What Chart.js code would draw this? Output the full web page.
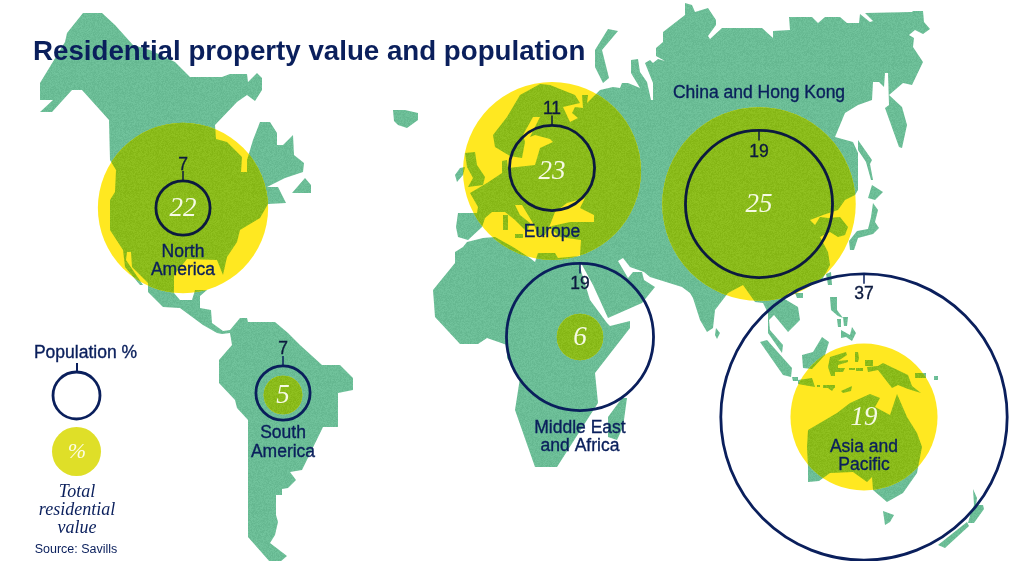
<!DOCTYPE html>
<html>
<head>
<meta charset="utf-8">
<title>Residential property value and population</title>
<script src="https://cdn.jsdelivr.net/npm/chart.js@4"></script>
<style>
    body { margin: 0; background: #fff; }
    canvas { display: block; }
</style>
</head>
<body>
<canvas id="map" width="1024" height="561"></canvas>
<script>
// regions
var regions = ['North America', 'South America', 'Europe', 'China and Hong Kong', 'Middle East and Africa', 'Asia and Pacific'];
var populationShare = [7, 7, 11, 19, 19, 37];
var propertyValueShare = [22, 5, 23, 25, 6, 19];
// both circle sets have radius proportional to the share
var pixelsPerPercent = 3.87;

// where the circles sit on the map
var regionX = [183, 283, 552, 759, 580, 864];
var valueY = [208, 395, 171, 204, 337, 417];
var populationY = [208, 393, 168, 204, 337, 417];

// map outlines, in map units
var eurasiaAfrica = [
    [456,227],[458,213],[477,213],[478,207],[470,193],[487,183],[502,173],[502,161],[507,160],[508,168],[535,165],[540,148],[553,142],[550,139],[535,135],[530,137],[540,117],[533,117],[523,135],[525,142],[522,158],[510,156],[495,147],[493,135],[507,117],[520,95],[540,84],[550,85],[575,95],[580,103],[563,107],[570,122],[578,118],[572,113],[575,107],[583,108],[582,95],[588,95],[587,103],[600,90],[613,87],[620,88],[622,83],[628,83],[640,88],[631,73],[631,60],[638,59],[640,72],[647,82],[651,100],[653,100],[653,83],[645,63],[650,60],[653,63],[658,59],[665,61],[656,56],[656,48],[663,42],[663,32],[685,15],[685,3],[692,5],[695,12],[708,8],[716,20],[716,25],[708,36],[710,39],[722,28],[762,28],[773,38],[773,31],[790,30],[789,17],[812,17],[818,23],[825,17],[840,17],[847,23],[859,23],[860,14],[870,22],[873,21],[865,13],[912,12],[913,11],[923,11],[924,22],[930,29],[923,34],[915,30],[909,35],[914,38],[913,47],[923,62],[912,85],[903,83],[889,95],[902,107],[907,125],[902,148],[899,147],[885,108],[889,105],[888,73],[885,73],[884,87],[879,82],[873,82],[872,100],[858,105],[845,113],[835,137],[853,142],[858,153],[858,190],[855,195],[845,200],[838,210],[823,215],[810,220],[815,225],[820,217],[828,218],[840,217],[848,227],[845,235],[838,237],[830,232],[820,237],[828,252],[830,265],[822,280],[805,288],[790,292],[783,298],[798,307],[800,320],[788,332],[774,315],[769,320],[770,330],[783,345],[782,353],[768,333],[768,313],[763,303],[755,302],[743,285],[728,293],[715,310],[713,328],[707,332],[700,320],[693,298],[690,293],[682,287],[650,277],[644,272],[630,267],[623,258],[618,261],[628,278],[633,272],[642,272],[644,280],[655,287],[642,303],[608,318],[593,285],[581,263],[579,264],[590,300],[607,323],[610,326],[630,321],[630,328],[595,373],[598,403],[587,420],[557,467],[535,467],[515,410],[520,378],[507,358],[507,345],[487,338],[478,344],[460,344],[435,317],[433,290],[455,263],[455,252],[463,247],[467,242],[483,238],[495,237],[513,247],[530,258],[535,262],[538,253],[555,253],[558,258],[580,256],[581,240],[560,237],[550,228],[552,226],[570,222],[594,222],[594,215],[580,208],[585,198],[567,203],[555,212],[550,225],[545,235],[538,235],[534,225],[522,205],[515,205],[520,215],[530,223],[527,232],[515,220],[505,212],[492,212],[485,218],[482,227],[468,240],[458,237]
];
var americas = [
    [83,13],[102,13],[115,25],[133,45],[150,50],[175,62],[190,77],[222,77],[230,74],[247,74],[248,82],[257,73],[262,78],[262,90],[255,101],[247,95],[237,102],[215,125],[216,139],[227,142],[242,157],[241,172],[247,172],[247,160],[253,140],[260,122],[270,122],[277,133],[277,145],[283,145],[293,135],[294,155],[304,163],[303,172],[285,178],[267,187],[278,187],[286,203],[268,204],[260,218],[240,230],[237,242],[227,257],[223,275],[217,260],[187,259],[174,275],[174,293],[180,300],[192,300],[195,290],[207,290],[200,296],[200,308],[211,310],[212,323],[223,331],[230,330],[240,318],[247,318],[248,322],[275,322],[288,333],[300,345],[322,365],[340,365],[353,378],[353,390],[338,393],[338,427],[323,427],[302,470],[290,472],[296,480],[288,488],[282,489],[282,495],[276,495],[276,515],[278,522],[275,535],[270,543],[287,556],[280,562],[270,562],[248,537],[248,420],[237,408],[235,400],[219,383],[219,360],[232,345],[230,333],[222,334],[217,333],[203,325],[180,308],[163,307],[148,292],[148,283],[132,267],[131,252],[127,252],[126,260],[143,285],[140,285],[125,267],[123,250],[110,230],[110,200],[115,192],[116,170],[110,160],[109,120],[82,90],[72,90],[52,112],[40,112],[53,100],[40,100],[40,83],[65,42],[67,33]
];
var australia = [[808,430],[837,413],[850,403],[870,394],[880,398],[875,407],[890,415],[897,394],[907,417],[917,433],[922,447],[917,473],[903,493],[887,502],[873,490],[872,477],[867,482],[853,472],[830,473],[819,481],[808,482],[808,467],[807,447]];
var newGuinea = [[867,367],[878,366],[883,363],[908,375],[912,386],[921,393],[908,389],[898,385],[892,388],[878,370],[868,372]];
var borneo = [[822,337],[829,342],[825,355],[812,369],[803,368],[802,355],[813,352]];
var sumatra = [[760,342],[767,340],[792,368],[791,377],[783,375]];
var sulawesi = [[830,357],[846,352],[847,355],[838,361],[848,360],[848,362],[838,365],[838,368],[845,368],[843,372],[835,372],[835,376],[831,376],[828,367]];
var islands = [
    [[393,110],[405,110],[418,113],[418,120],[407,128],[398,125],[394,121]],
    [[460,168],[465,167],[463,175],[457,182],[455,175]],
    [[465,153],[475,152],[477,165],[485,177],[483,185],[468,187],[473,178],[467,167]],
    [[503,215],[508,215],[508,230],[503,230]],
    [[515,234],[523,234],[523,238],[515,238]],
    [[608,29],[618,31],[602,50],[609,78],[603,83],[595,67],[595,50]],
    [[622,398],[627,398],[623,427],[617,440],[608,437],[608,417]],
    [[292,193],[305,178],[311,185],[311,193]],
    [[858,140],[872,160],[870,164],[873,180],[871,180],[866,162],[858,150]],
    [[872,185],[883,192],[875,200],[868,198]],
    [[873,203],[878,210],[875,222],[879,228],[873,234],[858,238],[854,250],[850,250],[849,241],[857,231],[868,229],[871,217]],
    [[826,274],[831,272],[832,285],[828,285]],
    [[795,293],[803,293],[803,298],[797,298]],
    [[716,328],[720,333],[717,339],[715,335]],
    [[830,297],[837,297],[837,310],[843,318],[838,316],[831,310]],
    [[841,330],[850,335],[852,327],[856,333],[852,341],[846,337],[841,338]],
    [[837,319],[841,319],[841,327],[838,327]],
    [[843,317],[848,317],[847,326],[844,326]],
    [[792,377],[798,377],[798,381],[793,381]],
    [[798,380],[812,378],[815,387],[798,384]],
    [[817,385],[820,385],[820,387],[817,387]],
    [[823,385],[835,385],[835,388],[823,388]],
    [[828,388],[834,388],[832,391]],
    [[841,391],[852,386],[851,391],[843,393]],
    [[855,352],[858,352],[859,358],[858,362],[855,362]],
    [[865,360],[873,360],[873,366],[865,366]],
    [[849,368],[855,368],[855,370],[849,370]],
    [[856,368],[863,368],[863,371],[856,371]],
    [[915,373],[926,373],[926,378],[915,378]],
    [[934,376],[938,376],[938,380],[934,380]],
    [[883,511],[894,515],[890,522],[885,525]],
    [[938,545],[967,522],[969,526],[945,548]],
    [[973,489],[977,498],[976,505],[983,505],[984,509],[974,523],[968,523],[971,512],[974,505]]
];

// text on the map
var nameLines = ['North', 'America', 'South', 'America', 'Europe', 'China and Hong Kong', 'Middle East', 'and Africa', 'Asia and', 'Pacific'];
var nameX = [183, 183, 283, 283, 552, 759, 580, 580, 864, 864];
var nameY = [252, 270, 433, 452, 232, 93, 428, 446, 447, 465];
var populationLabelY = [165, 349, 109, 152, 284, 294];
// stems go up from the ring where the number is outside it, down where it is inside
var stemDirection = [-1, -1, -1, 1, 1, 1];

var NAVY = '#0a1f5c';
var INK = '#0c1a3f';
var ringColors = [INK, NAVY, INK, INK, NAVY, NAVY];

// grainy print look of the land colour
function grainPattern(r, g, b) {
    var tile = document.createElement('canvas');
    tile.width = tile.height = 64;
    var tctx = tile.getContext('2d');
    var img = tctx.createImageData(64, 64);
    for (var i = 0; i < 64 * 64; i++) {
        var h = Math.sin(i * 12.9898) * 43758.5453;
        var n = (h - Math.floor(h) - 0.5) * 14;
        img.data[i * 4] = r + n;
        img.data[i * 4 + 1] = g + n;
        img.data[i * 4 + 2] = b + n;
        img.data[i * 4 + 3] = 255;
    }
    tctx.putImageData(img, 0, 0);
    return document.getElementById('map').getContext('2d').createPattern(tile, 'repeat');
}

// all outlines as one line, NaN rows break it into separate shapes
function landPoints() {
    var shapes = [eurasiaAfrica, americas, australia, newGuinea, borneo, sumatra, sulawesi].concat(islands);
    var pts = [];
    shapes.forEach(function (shape) {
        shape.forEach(function (p) { pts.push({ x: p[0], y: p[1] }); });
        pts.push({ x: shape[0][0], y: shape[0][1] });
        pts.push({ x: NaN, y: NaN });
    });
    return pts;
}

function landDataset(label, fill, order) {
    return {
        type: 'scatter', label: label, data: landPoints(), showLine: true, fill: 'shape',
        backgroundColor: fill, borderWidth: 0, borderColor: 'transparent', pointRadius: 0,
        tension: 0, spanGaps: false, order: order, clip: false
    };
}

// weight thickens the thin system sans towards the printed one
function text(ctx, str, x, y, font, color, align, weight) {
    ctx.font = font;
    ctx.fillStyle = color;
    ctx.textAlign = align || 'center';
    ctx.textBaseline = 'middle';
    ctx.fillText(str, x, y);
    if (weight) {
        ctx.strokeStyle = color;
        ctx.lineWidth = weight;
        ctx.strokeText(str, x, y);
    }
}

// the darker land only shows inside the value circles, the clip wraps that one dataset
var bubbleClip = {
    id: 'bubbleClip',
    afterDatasetDraw: function (chart, args) {
        var ctx = chart.ctx;
        var ds = chart.data.datasets[args.index];
        if (ds.label === 'Total residential value') {
            ctx.save();
            ctx.beginPath();
            regions.forEach(function (name, i) {
                var x = chart.scales.x.getPixelForValue(regionX[i]);
                var y = chart.scales.y.getPixelForValue(valueY[i]);
                ctx.moveTo(x + propertyValueShare[i] * pixelsPerPercent, y);
                ctx.arc(x, y, propertyValueShare[i] * pixelsPerPercent, 0, Math.PI * 2);
            });
            ctx.clip();
        }
        if (ds.label === 'Land inside value circles') {
            ctx.restore();
        }
    }
};

var mapText = {
    id: 'mapText',
    afterDatasetsDraw: function (chart) {
        var ctx = chart.ctx;
        var sx = chart.scales.x, sy = chart.scales.y;
        nameLines.forEach(function (line, i) {
            text(ctx, line, sx.getPixelForValue(nameX[i]), sy.getPixelForValue(nameY[i]), '17.5px "Liberation Sans"', NAVY, 'center', 0.35);
        });
        regions.forEach(function (name, i) {
            var x = sx.getPixelForValue(regionX[i]);
            var top = sy.getPixelForValue(populationY[i]) - populationShare[i] * pixelsPerPercent;
            ctx.strokeStyle = ringColors[i];
            ctx.lineWidth = 1.5;
            ctx.beginPath();
            ctx.moveTo(x, top);
            ctx.lineTo(x, top + stemDirection[i] * 10);
            ctx.stroke();
            text(ctx, String(populationShare[i]), x, sy.getPixelForValue(populationLabelY[i]), '17.5px "Liberation Sans"', INK, 'center', 0.35);
            text(ctx, String(propertyValueShare[i]), x, sy.getPixelForValue(valueY[i]) + 1, 'italic 27px "Liberation Serif"', 'rgba(255,255,245,0.92)');
        });

        // legend
        ctx.strokeStyle = NAVY;
        ctx.lineWidth = 2;
        ctx.beginPath();
        ctx.moveTo(77, 363);
        ctx.lineTo(77, 372);
        ctx.stroke();
        text(ctx, 'Population %', 85.5, 353, '17.5px "Liberation Sans"', NAVY, 'center', 0.35);
        text(ctx, '%', 77, 452, 'italic 22px "Liberation Serif"', 'rgba(255,255,245,0.92)');
        text(ctx, 'Total', 77, 492, 'italic 18px "Liberation Serif"', NAVY);
        text(ctx, 'residential', 77, 510, 'italic 18px "Liberation Serif"', NAVY);
        text(ctx, 'value', 77, 528, 'italic 18px "Liberation Serif"', NAVY);
        text(ctx, 'Source: Savills', 76, 550, '12.5px "Liberation Sans"', NAVY);

        text(ctx, 'Residential property value and population', 33, 52, 'bold 27.7px "Liberation Sans"', NAVY, 'left');
    }
};

var chart = new Chart(document.getElementById('map').getContext('2d'), {
    type: 'bubble',
    data: {
        datasets: [
            landDataset('Land', grainPattern(107, 189, 150), 6),
            {
                label: 'Total residential value',
                data: regions.map(function (name, i) {
                    return { x: regionX[i], y: valueY[i], r: propertyValueShare[i] * pixelsPerPercent };
                }),
                backgroundColor: '#ffe821', borderWidth: 0, order: 5, clip: false
            },
            landDataset('Land inside value circles', grainPattern(138, 187, 26), 4),
            {
                label: 'Population',
                data: regions.map(function (name, i) {
                    return { x: regionX[i], y: populationY[i], r: populationShare[i] * pixelsPerPercent };
                }),
                backgroundColor: 'transparent', borderColor: ringColors, borderWidth: 2.8, order: 3, clip: false
            },
            {
                label: 'Legend value',
                data: [{ x: 76.5, y: 451.5, r: 24.5 }],
                backgroundColor: '#dfdf28', borderWidth: 0, order: 2, clip: false
            },
            {
                label: 'Legend population',
                data: [{ x: 76.5, y: 395.5, r: 23.5 }],
                backgroundColor: 'transparent', borderColor: NAVY, borderWidth: 2.8, order: 1, clip: false
            }
        ]
    },
    options: {
        responsive: false,
        animation: false,
        events: [],
        layout: { autoPadding: false, padding: 0 },
        scales: {
            x: { type: 'linear', min: 0, max: 1024, display: false },
            y: { type: 'linear', min: 0, max: 561, reverse: true, display: false }
        },
        plugins: {
            legend: { display: false },
            tooltip: { enabled: false }
        }
    },
    plugins: [bubbleClip, mapText]
});
</script>
</body>
</html>
